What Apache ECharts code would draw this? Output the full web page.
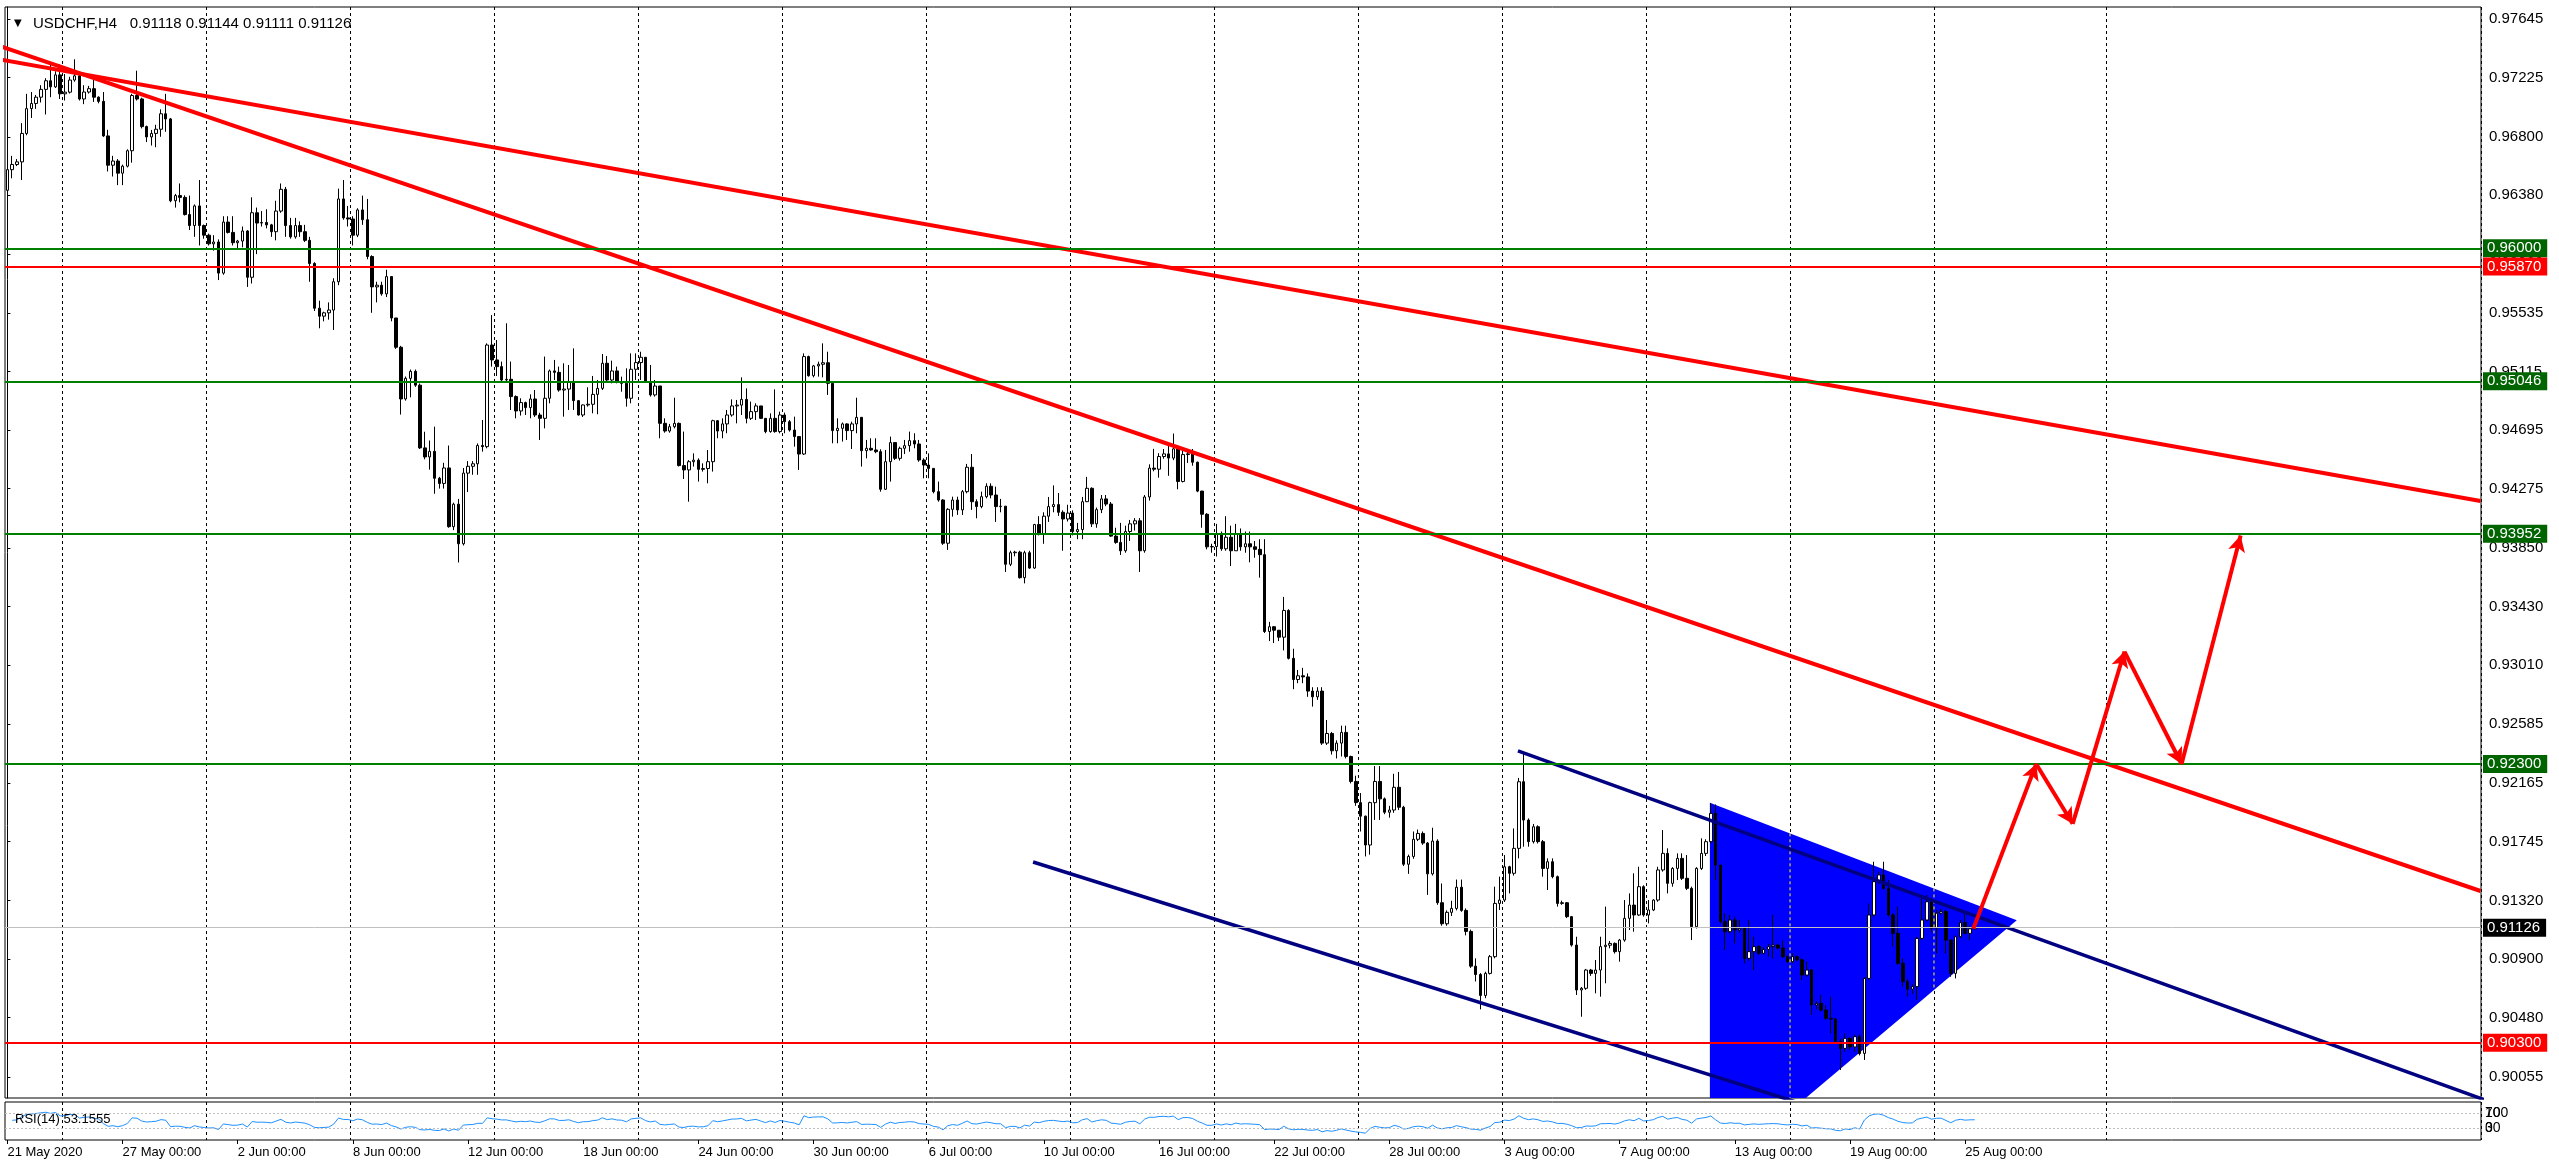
<!DOCTYPE html>
<html><head><meta charset="utf-8">
<script src="https://cdn.jsdelivr.net/npm/echarts@6.0.0/dist/echarts.min.js"></script>
<style>html,body{margin:0;padding:0;background:#fff;overflow:hidden}#c{width:2559px;height:1172px}</style>
</head><body><div id="c"></div>
<script>
// ---------- DATA (prices in 1e-5 units) ----------
const firstOpen = 96416;
const closes = [
96564,96601,96620,96824,97002,97039,97084,97140,97202,97158,
97244,97108,97120,97207,97237,97071,97121,97145,97084,97054,
96806,96596,96626,96539,96589,96700,97096,97071,96873,96799,
96824,96854,96965,96928,96341,96378,96365,96242,96163,96304,
96163,96094,96032,96045,95822,96188,96114,96040,96052,96124,
95792,96255,96181,96185,96168,96119,96267,96423,96163,96082,
96163,96119,96057,95891,95570,95513,95537,95557,95760,96354,
96218,96210,96094,96275,96205,95941,95723,95735,95673,95797,
95500,95290,94919,95067,95117,95018,94568,94503,94543,94350,
94313,94424,94003,94164,93880,94387,94436,94454,94585,94577,
95306,95199,95151,95055,95060,94936,94833,94893,94857,94919,
94804,94780,94924,95120,95110,94983,94990,95043,94907,94804,
94876,94881,94952,94995,95175,95055,95120,95043,95031,94924,
95132,95180,95218,95043,94948,95012,94744,94689,94720,94744,
94441,94410,94469,94480,94414,94420,94469,94763,94689,94740,
94804,94869,94875,94916,94780,94828,94869,94780,94685,94780,
94685,94804,94756,94696,94649,94524,95223,95086,95156,95168,
95179,95031,94692,94708,94740,94692,94740,94787,94548,94565,
94553,94541,94271,94469,94606,94493,94565,94584,94620,94596,
94481,94445,94421,94254,94194,93884,94127,94194,94123,94254,
94429,94182,94147,94218,94293,94230,94147,94150,93733,93816,
93820,93637,93816,93706,94018,93954,94078,94147,94161,94106,
94058,94100,93968,93982,94182,94278,94023,94125,94202,94165,
93935,93890,93830,93968,94023,94045,93830,94216,94423,94415,
94506,94525,94495,94561,94327,94520,94525,94465,94258,94092,
93858,93860,93954,93844,93927,93830,93954,93858,93880,93858,
93840,93802,93251,93285,93260,93210,93402,93058,92906,92933,
92925,92823,92782,92823,92450,92519,92395,92450,92527,92354,
92175,92023,91926,91719,92023,92175,92050,91954,91970,92133,
91990,91581,91637,91760,91802,91733,91512,91747,91305,91154,
91236,91264,91416,91250,91099,90850,90790,90640,90798,90918,
91300,91324,91563,91516,91695,92173,91898,91743,91850,91743,
91551,91599,91492,91300,91305,91205,91001,90679,90691,90822,
90798,90822,90990,91000,91013,90954,91037,91193,91288,91217,
91420,91217,91253,91324,91540,91659,91444,91551,91623,91480,
91408,91133,91551,91659,91743,91946,91575,91169,91097,91181,
91109,91121,90906,90954,90990,90942,90970,90990,91001,90980,
90918,90882,90918,90895,90786,90822,90571,90583,90535,90476,
90470,90308,90260,90332,90270,90344,90224,90762,91217,91456,
91504,91408,91217,91085,90870,90739,90685,90703,91049,91181,
91312,91121,91230,91241,91037,90798,91061,91162,91085,91118,
91126];
const highs = [
96580,96663,96640,96898,97108,97121,97100,97170,97220,97319,
97270,97319,97250,97230,97356,97250,97170,97165,97232,97090,
97121,96850,96663,96640,96600,96710,97108,97274,97080,96880,
96849,96886,96997,97108,96935,96390,96465,96380,96378,96315,
96490,96170,96105,96094,96064,96230,96230,96230,96060,96156,
96130,96366,96292,96267,96280,96175,96341,96465,96440,96218,
96218,96193,96168,96082,95900,95624,95545,95612,95785,96428,
96490,96304,96230,96287,96378,96354,95950,95760,95760,95846,
95797,95500,95300,95080,95130,95130,95030,94684,94621,94720,
94360,94461,94585,94175,94202,94424,94473,94473,94600,94768,
95318,95521,95342,95187,95462,95187,94945,94924,94900,94952,
94983,94820,95223,95130,95199,95151,95175,95163,95282,94912,
94880,95003,95084,95055,95242,95227,95194,95151,95079,95139,
95246,95246,95258,95218,95163,95055,95012,94780,94740,94928,
94750,94685,94480,94529,94493,94457,94553,94770,94768,94780,
94840,94916,94912,95074,94995,94900,94888,94869,94780,94816,
94988,94828,94821,94768,94792,94653,95246,95230,95163,95187,
95318,95258,95040,94780,94750,94744,94756,94928,94790,94625,
94637,94637,94558,94553,94649,94606,94577,94625,94685,94673,
94625,94493,94529,94421,94326,94200,94135,94218,94218,94266,
94453,94524,94199,94254,94314,94314,94290,94202,94150,93830,
93830,93830,93830,93830,94023,94078,94106,94216,94299,94244,
94120,94160,94120,94030,94216,94360,94285,94140,94230,94230,
94180,93995,94030,94010,94051,94064,94064,94230,94450,94561,
94530,94560,94600,94671,94575,94547,94547,94560,94470,94260,
94100,93880,94023,93968,94078,94010,94023,93990,93968,93968,
93900,93913,93913,93320,93290,93260,93499,93410,93127,92975,
92990,92950,92851,92851,92851,92616,92530,92470,92575,92575,
92360,92216,92092,91930,92030,92285,92285,92060,92000,92230,
92243,92000,91650,91816,91830,91816,91740,91843,91760,91443,
91250,91319,91471,91471,91264,91112,90906,90800,90810,90930,
91420,91492,91647,91570,91838,92200,92376,91910,91870,91860,
91755,91623,91623,91500,91320,91310,91210,91061,90700,90830,
90830,90894,91061,91277,91030,91020,91045,91324,91372,91516,
91563,91430,91324,91330,91563,91826,91695,91560,91659,91659,
91647,91420,91560,91767,91760,92018,92010,91580,91230,91217,
91205,91181,91130,91181,91061,91000,90985,91010,91217,91010,
91037,90925,90940,90925,90906,90882,90830,90600,90643,90570,
90631,90480,90330,90368,90340,90360,90360,90770,91300,91599,
91528,91599,91468,91230,91277,90906,90760,90720,91060,91360,
91360,91336,91253,91260,91253,91040,91070,91181,91241,91140,
91144];
const lows = [
96400,96502,96590,96490,96811,96935,97000,97046,96960,97084,
97150,97071,97060,97110,97195,97060,97034,97110,97050,97040,
96799,96551,96515,96453,96453,96580,96614,97060,96860,96762,
96737,96725,96800,96836,96330,96292,96330,96235,96131,96082,
96020,96069,96020,95983,95772,95810,96106,96020,95995,96007,
95723,95747,95958,96156,96143,96082,96057,96255,96082,96069,
96069,96082,96045,95760,95550,95426,95476,95488,95414,95735,
96205,96156,96020,96080,96168,95921,95537,95612,95660,95650,
95476,95278,94807,94907,94931,95006,94560,94486,94412,94239,
94276,94276,93995,93978,93746,93868,94251,94375,94375,94541,
94565,95151,95084,95043,95043,94840,94780,94800,94804,94780,
94790,94625,94708,94888,95055,94971,94792,94840,94840,94800,
94790,94864,94816,94809,94983,95043,95031,95031,94971,94864,
94888,95055,95055,95040,94936,94936,94637,94677,94677,94708,
94435,94345,94182,94434,94326,94398,94314,94398,94637,94637,
94673,94792,94744,94804,94744,94768,94768,94775,94673,94677,
94677,94673,94673,94685,94577,94410,94517,95079,95074,95079,
95074,94948,94601,94601,94613,94625,94560,94673,94434,94493,
94548,94530,94254,94266,94326,94481,94477,94524,94541,94565,
94469,94350,94350,94242,94182,93872,93836,94075,94087,94087,
94242,94123,94063,94135,94206,94206,94037,94106,93678,93720,
93790,93630,93596,93700,93700,93940,93880,94037,94106,94080,
93830,94040,93940,93913,93913,94180,94000,93995,94100,94150,
93930,93880,93800,93816,93900,93975,93678,93816,94190,94400,
94354,94490,94368,94480,94271,94320,94460,94440,94250,93995,
93840,93816,93789,93830,93830,93720,93830,93830,93816,93747,
93780,93637,93240,93182,93168,93182,93115,93050,92837,92880,
92880,92782,92712,92760,92437,92437,92368,92340,92354,92340,
92161,92000,91816,91637,91650,91899,91899,91940,91915,91950,
91970,91568,91512,91620,91747,91720,91361,91500,91290,91140,
91140,91210,91250,91240,91071,90837,90740,90540,90620,90790,
90906,91253,91310,91372,91500,91623,91707,91707,91730,91730,
91492,91396,91480,91277,91290,91195,90990,90643,90487,90680,
90780,90655,90631,90727,90978,90940,90882,91025,91109,91097,
91210,91205,91157,91245,91312,91528,91372,91420,91468,91468,
91396,91037,91120,91540,91640,91731,91468,91157,90966,91085,
91013,91090,90870,90890,90822,90930,90935,90918,90906,90970,
90906,90870,90870,90885,90750,90774,90499,90540,90523,90465,
90368,90300,90105,90236,90250,90236,90210,90177,90750,91205,
91440,91400,91205,90990,90860,90703,90631,90650,90607,91040,
91170,91097,90942,91220,90942,90774,90762,91050,91080,91037,
91111];

const tickLabels = ['21 May 2020','27 May 00:00','2 Jun 00:00','8 Jun 00:00','12 Jun 00:00','18 Jun 00:00',
  '24 Jun 00:00','30 Jun 00:00','6 Jul 00:00','10 Jul 00:00','16 Jul 00:00','22 Jul 00:00','28 Jul 00:00',
  '3 Aug 00:00','7 Aug 00:00','13 Aug 00:00','19 Aug 00:00','25 Aug 00:00'];
const priceTicks = [0.90055,0.90480,0.90900,0.91320,0.91745,0.92165,0.92585,0.93010,0.93430,0.93850,
  0.94275,0.94695,0.95115,0.95535,0.95960,0.96380,0.96800,0.97225,0.97645];
const weekGridBars = [12,42,72,102,132,162,192,222,252,282,312,342,372,402,438];
const greenLevels = [0.96000, 0.95046, 0.93952, 0.92300];
const redLevels = [0.95870, 0.90300];
const lastPrice = 0.91126;
const rsiLevels = [70, 30];
// trend lines: [barIndex, price]
const redLineA = [[-1.46, 0.97449], [515.4, 0.91389]];
const redLineB = [[-1.46, 0.97354], [515.4, 0.94187]];
const navyUpper = [[314.8, 0.92394], [530, 0.89720]];
const navyLower = [[213.75, 0.91597], [384, 0.89754]];
const triangle = [[354.8, 0.92023], [418.75, 0.91180], [354.8, 0.89324]];
const arrowPath = [[409.7, 0.91119], [422.8, 0.92300], [430.4, 0.91871], [441.2, 0.93107], [453.1, 0.92300], [465.4, 0.93939]];

// ---------- BUILD ----------
const FONT = '"Liberation Sans", Arial, sans-serif';
const NSLOT = 516;
const slots = Array.from({length: NSLOT}, (_, i) => String(i));
const candles = closes.map((c, i) => {
  const o = i === 0 ? firstOpen : closes[i - 1];
  const h = Math.max(highs[i], o, c), l = Math.min(lows[i], o, c);
  return [o / 1e5, c / 1e5, l / 1e5, h / 1e5];
});
function rsi(cl, n) {
  let seed = 0;
  for (let i = 1; i <= n; i++) seed += Math.abs(cl[i] - cl[i - 1]);
  let ag = seed / n / 2, al = seed / n / 2;
  const out = [null];
  for (let i = 1; i < cl.length; i++) {
    const d = cl[i] - cl[i - 1];
    ag = (ag * (n - 1) + (d > 0 ? d : 0)) / n;
    al = (al * (n - 1) + (d < 0 ? -d : 0)) / n;
    out.push(al === 0 ? 100 : 100 - 100 / (1 + ag / al));
  }
  return out;
}
const rsiVals = rsi(closes, 14);
function edgeAt(a, b, x) { return a[1] + (x - a[0]) / (b[0] - a[0]) * (b[1] - a[1]); }
function xorGrid(bar) {
  const x = bar - 0.5;
  return [[x, edgeAt(triangle[0], triangle[1], x)], [x, edgeAt(triangle[2], triangle[1], x)]];
}
const gridInTriangle = weekGridBars.filter(b => b - 0.5 > triangle[0][0] && b - 0.5 < triangle[1][0]);

const weekSplit = (i) => weekGridBars.indexOf(i) >= 0;
const labelIdx = (i) => i % 24 === 0 && i <= 408;
const splitStyle = {show: true, interval: weekSplit, lineStyle: {color: '#000', width: 1, type: [3, 3]}};

function badge(bg) {
  return {show: true, position: 'end', distance: 2, formatter: p => Number(p.value).toFixed(5),
    color: '#fff', backgroundColor: bg, padding: [2, 6, 1, 4], fontSize: 15, fontFamily: FONT};
}
const levelLines = [
  ...greenLevels.map(v => ({yAxis: v, lineStyle: {color: '#008000', width: 2, type: 'solid'}, label: badge('#006400')})),
  ...redLevels.map(v => ({yAxis: v, lineStyle: {color: '#FF0000', width: 2, type: 'solid'}, label: badge('#FF0000')})),
  {yAxis: lastPrice, lineStyle: {color: '#C0C0C0', width: 1, type: 'solid'}, label: badge('#000000')}
];
const arrowSegs = [];
for (let i = 0; i < arrowPath.length - 1; i++) arrowSegs.push([{coord: arrowPath[i]}, {coord: arrowPath[i + 1]}]);

function trend(data, color, width) {
  return {type: 'line', xAxisIndex: 1, yAxisIndex: 0, data, symbol: 'none', silent: true, z: 3,
    lineStyle: {color, width}, animation: false};
}

const option = {
  animation: false,
  backgroundColor: '#ffffff',
  textStyle: {fontFamily: FONT},
  title: [
    {text: '▼', left: 9, top: 13, textStyle: {fontSize: 10, fontWeight: 'normal', color: '#000', fontFamily: 'DejaVu Sans'}},
    {text: 'USDCHF,H4   0.91118 0.91144 0.91111 0.91126', left: 28, top: 11,
      textStyle: {fontSize: 15, fontWeight: 'normal', color: '#000', fontFamily: FONT}},
    {text: 'RSI(14) 53.1555', left: 10, top: 1108, textStyle: {fontSize: 13, fontWeight: 'normal', color: '#000', fontFamily: FONT}}
  ],
  grid: [
    {left: 5, width: 2476, top: 7, height: 1091, show: true, borderColor: '#000', borderWidth: 1, backgroundColor: 'transparent'},
    {left: 5, width: 2476, top: 1102, height: 38, show: true, borderColor: '#000', borderWidth: 1, backgroundColor: 'transparent'}
  ],
  xAxis: [
    {type: 'category', gridIndex: 0, data: slots, boundaryGap: true, axisLine: {show: false}, axisTick: {show: false},
      axisLabel: {show: false}, splitLine: splitStyle},
    {type: 'value', gridIndex: 0, min: -0.5, max: NSLOT - 0.5, show: false},
    {type: 'category', gridIndex: 1, data: slots, boundaryGap: true, axisLine: {show: false},
      axisTick: {show: true, alignWithLabel: true, interval: labelIdx, length: 4, lineStyle: {color: '#000'}},
      axisLabel: {show: true, interval: labelIdx, align: 'left', margin: 6, fontSize: 13, color: '#000', fontFamily: FONT,
        formatter: (v, i) => tickLabels[Math.round(i / 24)] || ''},
      splitLine: splitStyle}
  ],
  yAxis: [
    {type: 'value', gridIndex: 0, position: 'right', min: 0.89904, max: 0.97731, splitLine: {show: false},
      axisLine: {show: true, lineStyle: {color: '#000'}},
      axisTick: {show: true, length: 3, customValues: priceTicks, lineStyle: {color: '#000'}},
      axisLabel: {show: true, customValues: priceTicks, formatter: v => Number(v).toFixed(5), margin: 8,
        fontSize: 15, color: '#000', fontFamily: FONT}},
    {type: 'value', gridIndex: 1, position: 'right', min: 0, max: 100, splitLine: {show: false},
      axisLine: {show: false}, axisTick: {show: false},
      axisLabel: {show: true, customValues: rsiLevels, formatter: v => String(v), margin: 4, fontSize: 14, color: '#000', fontFamily: FONT}},
    {type: 'value', gridIndex: 1, position: 'right', min: 0, max: 100, splitLine: {show: false},
      axisLine: {show: false}, axisTick: {show: false},
      axisLabel: {show: true, customValues: rsiLevels, formatter: v => (v >= 50 ? '100' : '0'), margin: 4, fontSize: 14, color: '#000', fontFamily: FONT}}
  ],
  series: [
    {type: 'custom', xAxisIndex: 1, yAxisIndex: 0, clip: true, silent: true, z: 1, data: [[380, 0.91]],
      renderItem: (params, api) => ({type: 'polygon', shape: {points: triangle.map(p => api.coord(p))}, style: {fill: '#0000FF'}})},
    ...gridInTriangle.map(b => ({type: 'line', xAxisIndex: 1, yAxisIndex: 0, data: xorGrid(b), symbol: 'none', silent: true, z: 1.5,
      lineStyle: {color: '#FFFF00', width: 1, type: [3, 3]}})),
    {type: 'candlestick', xAxisIndex: 0, yAxisIndex: 0, data: candles, barWidth: 3, z: 2, silent: true,
      itemStyle: {color: '#FFFFFF', color0: '#000000', borderColor: '#000000', borderColor0: '#000000', borderWidth: 1},
      markLine: {silent: true, symbol: 'none', animation: false, precision: 5, data: levelLines}},
    trend(redLineA, '#FF0000', 4),
    trend(redLineB, '#FF0000', 4),
    trend(navyUpper, '#000080', 3.5),
    trend(navyLower, '#000080', 3.5),
    {type: 'line', xAxisIndex: 1, yAxisIndex: 0, data: [], silent: true, z: 4,
      markLine: {silent: true, animation: false, precision: 5, symbol: ['none', 'arrow'], symbolSize: [13, 16],
        label: {show: false}, lineStyle: {color: '#FF0000', width: 4, type: 'solid'}, data: arrowSegs}},
    {type: 'line', xAxisIndex: 2, yAxisIndex: 1, data: rsiVals, symbol: 'none', silent: true, z: 3,
      lineStyle: {color: '#1E90FF', width: 1},
      markLine: {silent: true, symbol: 'none', animation: false, label: {show: false},
        lineStyle: {color: '#C0C0C0', width: 1, type: [2, 2]}, data: rsiLevels.map(v => ({yAxis: v}))}}
  ]
};
const chart = echarts.init(document.getElementById('c'), null, {renderer: 'canvas'});
chart.setOption(option);
</script>
</body></html>
